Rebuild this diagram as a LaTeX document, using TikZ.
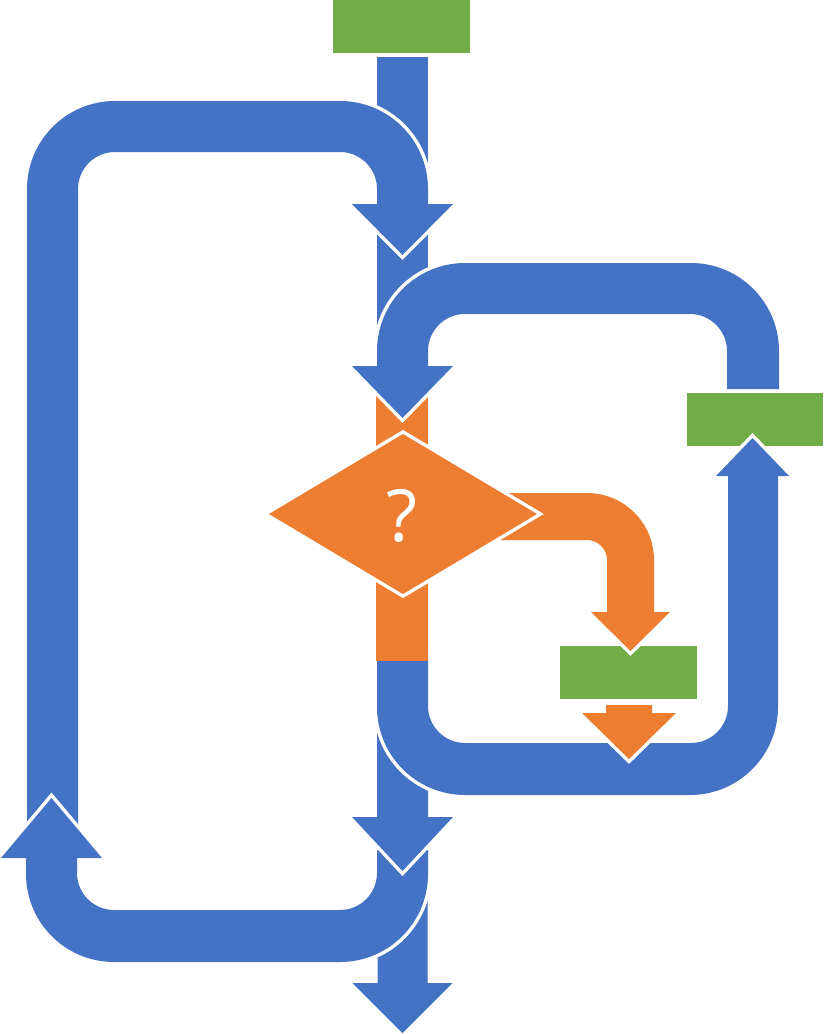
\documentclass[tikz,border=0pt]{standalone}
\usepackage{fontspec}
\newfontfamily\qfont{Open Sans}
\definecolor{fblue}{HTML}{4472C4}
\definecolor{forange}{HTML}{ED7D31}
\definecolor{fgreen}{HTML}{70AD47}
\begin{document}
\begin{tikzpicture}[x=1pt,y=-1pt,line join=miter,
  plainblue/.style={fill=fblue},
  plainorange/.style={fill=forange},
  blueshape/.style={preaction={draw=white,line width=7pt,line join=miter},fill=fblue},
  orangeshape/.style={preaction={draw=white,line width=7pt,line join=miter},fill=forange},
  greenbox/.style={fill=fgreen,draw=none,inner sep=0pt,outer sep=0pt,minimum height=53pt},
  qmark/.style={text=white,inner sep=0pt,font=\qfont\fontsize{72}{72}\selectfont}]
\useasboundingbox (0,0) rectangle (823,1034);

% trunk, upper part
\path[plainblue] (377,57) rectangle (428,420);

% upper-left loop
\path[blueshape] (27,845) -- (27,189) .. controls (27,140.4) and (66.4,101) .. (115,101)
  -- (340,101) .. controls (388.6,101) and (428,140.4) .. (428,189)
  -- (428,204) -- (453,204) -- (402.5,255) -- (352,204) -- (377,204)
  -- (377,189) .. controls (377,168.6) and (360.4,152) .. (340,152)
  -- (115,152) .. controls (94.6,152) and (78,168.6) .. (78,189)
  -- (78,845) -- cycle;

% bottom straight arrow
\path[blueshape] (377.5,860) -- (427.5,860) -- (427.5,983) -- (452.5,983) -- (402.5,1033)
  -- (352.5,983) -- (377.5,983) -- cycle;

% bottom loop
\path[blueshape] (377,850) -- (428,850) -- (428,874) .. controls (428,922.6) and (388.6,962) .. (340,962)
  -- (114,962) .. controls (65.4,962) and (26,922.6) .. (26,874)
  -- (26,858) -- (1,858) -- (51.5,798) -- (102,858) -- (77,858)
  -- (77,873) .. controls (77,893.4) and (93.6,910) .. (114,910)
  -- (340,910) .. controls (360.4,910) and (377,893.4) .. (377,873) -- cycle;

% trunk, middle arrow
\path[blueshape] (377,700) -- (428,700) -- (428,817) -- (453,817) -- (402.5,871)
  -- (352,817) -- (377,817) -- cycle;

% right green box
\node[greenbox,minimum width=136pt] (right) at (755,419.5) {};

% lower right loop
\path[blueshape] (377,655) -- (377,707) .. controls (377,755.6) and (416.4,795) .. (465,795)
  -- (690,795) .. controls (738.6,795) and (778,755.6) .. (778,707)
  -- (778,476) -- (789,476) -- (752.5,438) -- (716,476) -- (728,476)
  -- (728,706) .. controls (728,726.4) and (711.4,743) .. (691,743)
  -- (465,743) .. controls (444.6,743) and (428,726.4) .. (428,706)
  -- (428,655) -- cycle;

% orange bar
\path[plainorange] (376,380) rectangle (428,661);

% right loop
\path[blueshape] (779,389) -- (779,351) .. controls (779,302.4) and (739.6,263) .. (691,263)
  -- (465,263) .. controls (416.4,263) and (377,302.4) .. (377,351)
  -- (377,366) -- (352,366) -- (402.5,418) -- (453,366) -- (428,366)
  -- (428,351) .. controls (428,330.6) and (444.6,314) .. (465,314)
  -- (690,314) .. controls (710.4,314) and (727,330.6) .. (727,351)
  -- (727,389) -- cycle;

% middle green box
\node[greenbox,minimum width=137pt] (mid) at (628.5,672.5) {};

% orange bent arrow
\path[orangeshape] (470,493) -- (587,493) .. controls (624,493) and (654,523) .. (654,560)
  -- (654,612) -- (670,612) -- (630.5,651) -- (591,612) -- (607,612)
  -- (607,560) .. controls (607,549) and (598,540) .. (587,540)
  -- (470,540) -- cycle;

% decision diamond
\path[orangeshape] (403,434) -- (537,514) -- (403,594) -- (269,514) -- cycle;
\node[qmark] (q) at (402,515.5) {?};

% small orange arrow
\path[orangeshape] (606,705) -- (652,705) -- (652,713) -- (676,713) -- (629,759)
  -- (582,713) -- (606,713) -- cycle;

% top green box
\node[greenbox,minimum width=137pt] (start) at (401.5,26.5) {};
\end{tikzpicture}
\end{document}
